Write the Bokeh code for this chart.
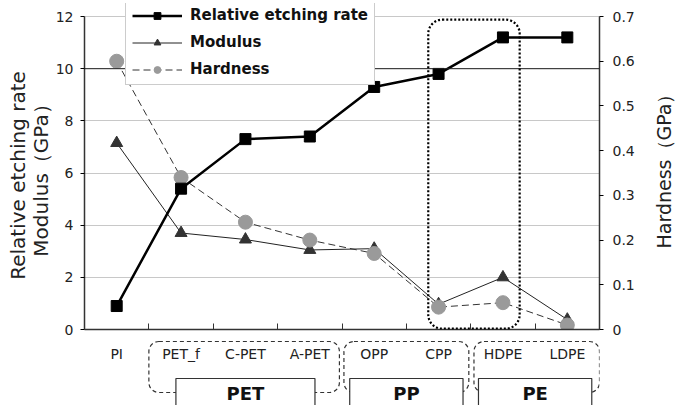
import math
from bokeh.plotting import figure
from bokeh.layouts import column, row
from bokeh.models import (Range1d, LinearAxis, FixedTicker, BoxAnnotation, Label,
                          Legend, LegendItem, Span)
from bokeh.core.properties import value
from bokeh.embed import file_html
from bokeh.resources import INLINE

categories = ["PI", "PET_f", "C-PET", "A-PET", "OPP", "CPP", "HDPE", "LDPE"]
etching_rate = [0.9, 5.4, 7.3, 7.4, 9.3, 9.8, 11.2, 11.2]
modulus = [7.15, 3.7, 3.45, 3.05, 3.1, 0.97, 2.0, 0.38]
hardness = [0.60, 0.34, 0.24, 0.20, 0.17, 0.05, 0.06, 0.01]
left_ticks = [0, 2, 4, 6, 8, 10, 12]
right_ticks = [0, 0.1, 0.2, 0.3, 0.4, 0.5, 0.6, 0.7]
right_tick_labels = ["0", "0.1", "0.2", "0.3", "0.4", "0.5", "0.6", "0.7"]
left_title_lines = ["Relative etching rate", "Modulus（GPa）"]
right_title = "Hardness（GPa）"
groups = ["PET", "PP", "PE"]
group_members = [["PET_f", "C-PET", "A-PET"], ["OPP", "CPP"], ["HDPE", "LDPE"]]
highlight = ["CPP", "HDPE"]

FONT = "DejaVu Sans"
xs = [i + 0.5 for i in range(len(categories))]
xr = Range1d(0, len(categories))

LW, RW = 52, 26            # widths of the side strips holding the axis titles
MW = 675 - LW - RW         # width of the chart column


def strip(w):
    f = figure(width=w, height=405, output_backend="svg", toolbar_location=None,
               x_range=Range1d(0, w), y_range=Range1d(405, 0),
               x_axis_location=None, y_axis_location=None,
               min_border_left=0, min_border_right=0, min_border_top=0, min_border_bottom=0)
    f.outline_line_color = None
    f.grid.grid_line_color = None
    f.background_fill_color = "white"
    f.border_fill_color = "white"
    return f


# ---------------- main chart ----------------
p = figure(width=MW, height=340, output_backend="svg", toolbar_location=None,
           x_range=xr, y_range=Range1d(0, 12.5),
           min_border_left=83 - LW, min_border_right=MW - (599 - LW), min_border_top=3,
           min_border_bottom=11)
p.outline_line_color = None
p.background_fill_color = "white"
p.border_fill_color = "white"
p.extra_y_ranges = {"hard": Range1d(0, 0.7 * 12.5 / 12)}

p.xaxis.ticker = FixedTicker(ticks=[], minor_ticks=list(range(1, len(categories))))
p.xaxis.major_label_standoff = 0
p.xaxis.major_tick_in = 0
p.xaxis.major_tick_out = 0
p.xaxis.minor_tick_in = 6
p.xaxis.minor_tick_out = 0
p.xaxis.minor_tick_line_color = "#333"
p.xaxis.axis_line_color = "#333"
p.xaxis.axis_line_width = 1.5

p.yaxis.ticker = FixedTicker(ticks=left_ticks)
p.yaxis.bounds = (0, 12)
p.yaxis.major_tick_out = 4
p.yaxis.major_tick_in = 0
p.yaxis.major_label_standoff = 7
p.yaxis.axis_line_color = "#333"
p.yaxis.axis_line_width = 1.5
p.yaxis.major_label_text_font = FONT
p.yaxis.major_label_text_font_size = "14px"
p.yaxis.major_label_text_color = "#222"

raxis = LinearAxis(y_range_name="hard", ticker=FixedTicker(ticks=right_ticks), bounds=(0, 0.7))
raxis.major_label_overrides = {t: l for t, l in zip(right_ticks, right_tick_labels)}
raxis.major_tick_out = 4
raxis.major_tick_in = 0
raxis.major_label_standoff = 9
raxis.axis_line_color = "#333"
raxis.axis_line_width = 1.5
raxis.major_label_text_font = FONT
raxis.major_label_text_font_size = "14px"
raxis.major_label_text_color = "#222"
p.add_layout(raxis, "right")

p.xgrid.grid_line_color = None
p.ygrid.ticker = FixedTicker(ticks=left_ticks)
p.ygrid.grid_line_color = "#c8c8c8"
p.add_layout(Span(location=10, dimension="width", line_color="#222", line_width=1))

r_mod_l = p.line(xs, modulus, line_color="#222", line_width=1)
r_mod_m = p.scatter(xs, modulus, marker="triangle", size=12, fill_color="#333", line_color="#333")
r_hard_l = p.line(xs, hardness, y_range_name="hard", line_color="#333", line_width=1, line_dash="7 4")
r_hard_m = p.scatter(xs, hardness, y_range_name="hard", marker="circle", size=14,
                     fill_color="#9a9a9a", line_color="#9a9a9a")
r_et_l = p.line(xs, etching_rate, line_color="black", line_width=2.5)
r_et_m = p.scatter(xs, etching_rate, marker="square", size=11, fill_color="black", line_color="black")

hi = [categories.index(c) for c in highlight]
p.add_layout(BoxAnnotation(left=min(hi) + 0.34, right=max(hi) + 0.76, top=11.88, bottom=0.03,
                           fill_color=None, line_color="black", line_alpha=1, line_width=2.2,
                           line_dash="2 2", border_radius=14))

legend = Legend(items=[
    LegendItem(label="Relative etching rate", renderers=[r_et_l, r_et_m]),
    LegendItem(label="Modulus", renderers=[r_mod_l, r_mod_m]),
    LegendItem(label="Hardness", renderers=[r_hard_l, r_hard_m]),
], location=(41, 244))
legend.label_text_font = FONT
legend.label_text_font_size = "15px"
legend.label_text_font_style = "bold"
legend.label_text_color = "#111"
legend.glyph_width = 50
legend.glyph_height = 17
legend.spacing = 9
legend.padding = 6
legend.margin = 0
legend.label_standoff = 8
legend.border_line_color = "#999"
legend.border_line_width = 1
legend.background_fill_color = "white"
legend.background_fill_alpha = 1
p.add_layout(legend)

# ---------------- category labels and group boxes below ----------------
b = figure(width=MW, height=65, output_backend="svg", toolbar_location=None,
           x_range=xr, y_range=Range1d(405, 340),
           x_axis_location=None, y_axis_location=None,
           min_border_left=83 - LW, min_border_right=MW - (599 - LW),
           min_border_top=0, min_border_bottom=0)
b.outline_line_color = None
b.grid.grid_line_color = None
b.background_fill_color = "white"
b.border_fill_color = "white"

label_row = 353
b.text(x=xs, y=[label_row] * len(xs), text=categories, text_align="center",
       text_baseline="middle", text_font=value(FONT), text_font_size="14px", text_color="#222")

pad_l = [0.0, 0.03, 0.05]
pad_r = [0.04, 0.03, 0.0]
for g, members, pl, pr in zip(groups, group_members, pad_l, pad_r):
    i0 = categories.index(members[0])
    i1 = categories.index(members[-1]) + 1
    b.add_layout(BoxAnnotation(left=i0 + pl, right=i1 - pr, top=341, bottom=392,
                               fill_color=None, line_color="#333", line_alpha=1, line_width=1.2,
                               line_dash="4 3", border_radius=10))
    cx = (i0 + i1) / 2
    half = 1.08 if (i1 - i0) > 2 else 0.88
    b.add_layout(BoxAnnotation(left=cx - half, right=cx + half, top=378, bottom=420,
                               fill_color="white", fill_alpha=1, line_color="#333",
                               line_alpha=1, line_width=1.2))
    b.add_layout(Label(x=cx, y=393, text=g, text_align="center", text_baseline="middle",
                       text_font=FONT, text_font_size="18px", text_font_style="bold",
                       text_color="#111"))

# ---------------- axis titles ----------------
lt = strip(LW)
for lx, txt in zip([17, 40], left_title_lines):
    lt.add_layout(Label(x=lx, y=175, text=txt, angle=math.pi / 2, text_align="center",
                        text_baseline="middle", text_font=FONT, text_font_size="20px",
                        text_color="#222"))
rt = strip(RW)
rt.add_layout(Label(x=14, y=166, text=right_title, angle=math.pi / 2, text_align="center",
                    text_baseline="middle", text_font=FONT, text_font_size="19px",
                    text_color="#222"))

layout = row(lt, column(p, b, spacing=0), rt, spacing=0)
open("out.html", "w").write(file_html(layout, INLINE))
